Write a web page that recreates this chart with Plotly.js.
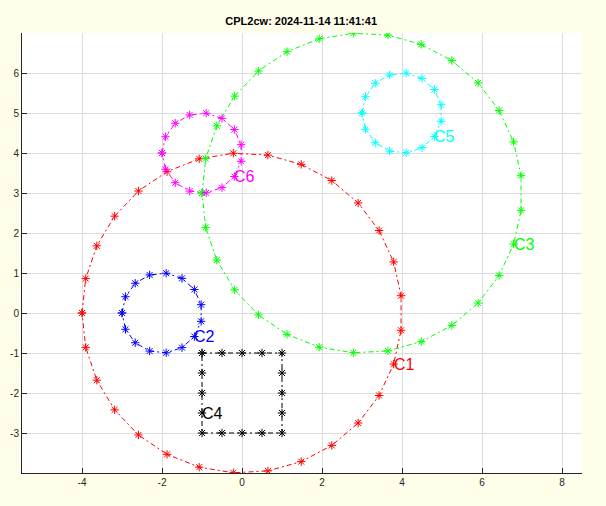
<!DOCTYPE html>
<html>
<head>
<meta charset="utf-8">
<script src="https://cdn.plot.ly/plotly-3.0.1.min.js"></script>
<style>html,body{margin:0;padding:0;background:#fffeea;}</style>
</head>
<body>
<div id="chart" style="width:606px;height:506px;"></div>
<script>
// Circles C1, C2, C3, C5, C6 (centre, radius, number of '*' markers, label position angle in degrees)
const circleNames   = ['C1', 'C2', 'C3', 'C5', 'C6'];
const circleCenterX = [0, -2, 3, 4, -1];
const circleCenterY = [0, 0, 3, 5, 4];
const circleRadius  = [4, 1, 4, 1, 1];
const circlePoints  = [29, 15, 29, 15, 15];
const circleStartDeg = [180, 180, 180, 180, 180];
const circleLabelDeg = [-18.62, -36, -18.62, -36, -36];
const circleColors  = ['#ff0000', '#0000ff', '#00ff00', '#00ffff', '#ff00ff'];

// Square C4
const squareName = 'C4';
const squareX = [-1, -0.5, 0, 0.5, 1, 1, 1, 1, 1, 0.5, 0, -0.5, -1, -1, -1, -1, -1];
const squareY = [-1, -1, -1, -1, -1, -1.5, -2, -2.5, -3, -3, -3, -3, -3, -2.5, -2, -1.5, -1];
const squareLabelX = -1, squareLabelY = -2.5;
const squareColor = '#000000';

const titleText = 'CPL2cw: 2024-11-14 11:41:41';
const xTicks = [-4, -2, 0, 2, 4, 6, 8];
const yTicks = [-3, -2, -1, 0, 1, 2, 3, 4, 5, 6];

const traces = [];
const annotations = [];
const lineDash = '5px,3px,2px,3px';
const mk = c => ({symbol: 'asterisk-open', size: 7, color: c, line: {color: c, width: 1}});

circleNames.forEach((nm, i) => {
  const xs = [], ys = [];
  const n = circlePoints[i];
  for (let k = 0; k <= n; k++) {
    const a = (circleStartDeg[i] - k * 360 / n) * Math.PI / 180;
    xs.push(circleCenterX[i] + circleRadius[i] * Math.cos(a));
    ys.push(circleCenterY[i] + circleRadius[i] * Math.sin(a));
  }
  traces.push({type: 'scatter', mode: 'lines+markers', x: xs, y: ys, name: nm,
    line: {color: circleColors[i], width: 1, dash: lineDash}, marker: mk(circleColors[i]),
    hoverinfo: 'skip'});
  const la = circleLabelDeg[i] * Math.PI / 180;
  annotations.push({x: circleCenterX[i] + circleRadius[i] * Math.cos(la),
    y: circleCenterY[i] + circleRadius[i] * Math.sin(la), text: nm, showarrow: false,
    xanchor: 'left', yanchor: 'middle', borderpad: 0, xshift: -1,
    font: {family: 'Liberation Sans, Arial, sans-serif', size: 16, color: circleColors[i]}});
});

traces.push({type: 'scatter', mode: 'lines+markers', x: squareX, y: squareY, name: squareName,
  line: {color: squareColor, width: 1, dash: lineDash}, marker: mk(squareColor), hoverinfo: 'skip'});
annotations.push({x: squareLabelX, y: squareLabelY, text: squareName, showarrow: false,
  xanchor: 'left', yanchor: 'middle', borderpad: 0, xshift: -1,
  font: {family: 'Liberation Sans, Arial, sans-serif', size: 16, color: squareColor}});

const axisCommon = {
  showgrid: true, gridcolor: '#dcdcdc', gridwidth: 1, zeroline: false,
  showline: true, linecolor: '#262626', linewidth: 1,
  ticks: 'inside', ticklen: 5, tickcolor: '#262626',
  tickfont: {family: 'Liberation Sans, Arial, sans-serif', size: 10, color: '#262626'},
  mirror: false
};

const layout = {
  width: 606, height: 506,
  margin: {l: 22, r: 24, t: 33, b: 33, pad: 0},
  paper_bgcolor: '#fffeea', plot_bgcolor: '#ffffff',
  showlegend: false,
  title: {text: '<b>' + titleText + '</b>', x: 0.497, xanchor: 'center', y: 0.958, yanchor: 'middle',
    yref: 'container', font: {family: 'Liberation Sans, Arial, sans-serif', size: 11, color: '#000000'}},
  xaxis: Object.assign({}, axisCommon, {range: [-5.5, 8.5], tickvals: xTicks, ticktext: xTicks.map(String)}),
  yaxis: Object.assign({}, axisCommon, {range: [-4, 7], tickvals: yTicks, ticktext: yTicks.map(String)}),
  annotations: annotations
};

Plotly.newPlot('chart', traces, layout, {displayModeBar: false, staticPlot: true});
</script>
</body>
</html>
